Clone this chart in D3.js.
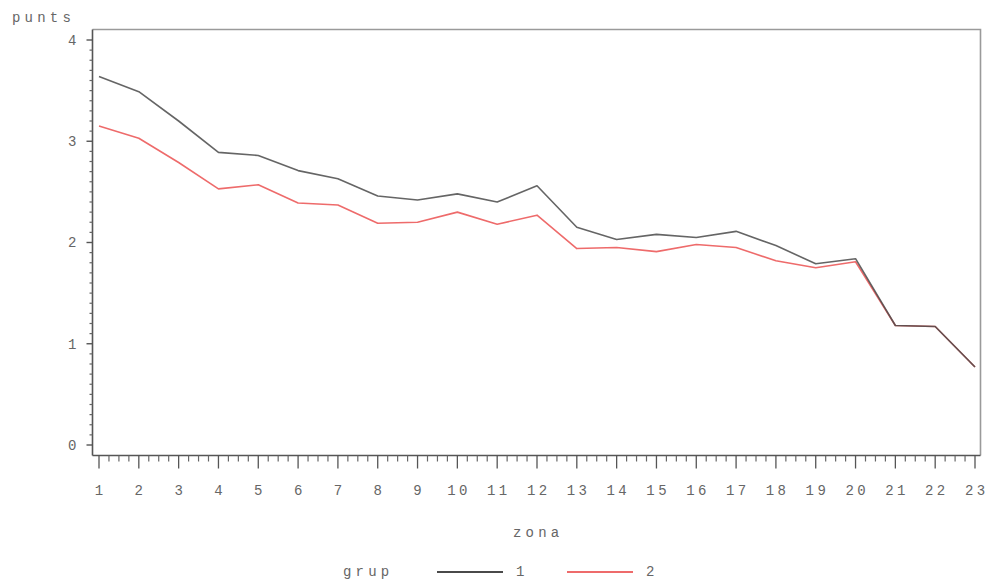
<!DOCTYPE html>
<html>
<head>
<meta charset="utf-8">
<script src="https://cdn.jsdelivr.net/npm/d3@7"></script>
<style>
  html, body { margin: 0; padding: 0; background: #fff; }
  svg text { font-family: "Liberation Mono", "DejaVu Sans Mono", monospace; fill: #666; }
</style>
</head>
<body>
<svg id="chart" width="989" height="582"></svg>
<script>
// Zones along the x axis
const zones = [1,2,3,4,5,6,7,8,9,10,11,12,13,14,15,16,17,18,19,20,21,22,23];
// Mean points per zone, group 1 and group 2
const grup1 = [3.64,3.49,3.20,2.89,2.86,2.71,2.63,2.46,2.42,2.48,2.40,2.56,2.15,2.03,2.08,2.05,2.11,1.97,1.79,1.84,1.18,1.17,0.77];
const grup2 = [3.15,3.03,2.79,2.53,2.57,2.39,2.37,2.19,2.20,2.30,2.18,2.27,1.94,1.95,1.91,1.98,1.95,1.82,1.75,1.81,1.18,1.17,0.77];
const yTicks = [0,1,2,3,4];
const groups = ["1","2"];
const colors = ["#4a4a4a","#ee6b6b"];

const svg = d3.select("#chart");
const frame = {left: 92.5, right: 980.5, top: 29.5, bottom: 455.5};
const fs = 14, ls = 3.4;

const x = d3.scaleLinear().domain([1, 23]).range([99, 975]);
const y = d3.scaleLinear().domain([0, 4]).range([445, 40]);

// plot frame (top and right sides lighter)
svg.append("path")
  .attr("d", `M${frame.left},${frame.top}H${frame.right}V${frame.bottom}`)
  .attr("fill", "none").attr("stroke", "#9a9a9a").attr("stroke-width", 1.6);

// y axis: majors every 1, minors every 0.1
const yAxis = svg.append("g").attr("transform", `translate(${frame.left},0)`);
yAxis.append("line").attr("x1", 0).attr("x2", 0).attr("y1", frame.top).attr("y2", frame.bottom)
  .attr("stroke", "#555").attr("stroke-width", 1.6);
const yMinor = d3.range(0, 40.5, 1).map(d => d / 10).filter(d => !yTicks.includes(d));
yAxis.selectAll("line.minor").data(yMinor).join("line").attr("class", "minor")
  .attr("x1", -3).attr("x2", 0).attr("y1", d => y(d)).attr("y2", d => y(d))
  .attr("stroke", "#666").attr("stroke-width", 1.2);
yAxis.selectAll("line.major").data(yTicks).join("line").attr("class", "major")
  .attr("x1", -6).attr("x2", 0).attr("y1", d => y(d)).attr("y2", d => y(d))
  .attr("stroke", "#555").attr("stroke-width", 1.4);
yAxis.selectAll("text").data(yTicks).join("text")
  .attr("x", -16).attr("y", d => y(d)).attr("dy", "0.35em")
  .attr("text-anchor", "end").attr("font-size", fs).text(d => d);

// x axis: majors every zone, minors every quarter
const xAxis = svg.append("g").attr("transform", `translate(0,${frame.bottom})`);
xAxis.append("line").attr("x1", frame.left).attr("x2", frame.right).attr("y1", 0).attr("y2", 0)
  .attr("stroke", "#555").attr("stroke-width", 1.6);
const xMinor = d3.range(4, 92, 1).map(d => d / 4).filter(d => d % 1 !== 0);
xAxis.selectAll("line.minor").data(xMinor).join("line").attr("class", "minor")
  .attr("x1", d => x(d)).attr("x2", d => x(d)).attr("y1", 0).attr("y2", 6)
  .attr("stroke", "#666").attr("stroke-width", 1.2);
xAxis.selectAll("line.major").data(zones).join("line").attr("class", "major")
  .attr("x1", d => x(d)).attr("x2", d => x(d)).attr("y1", 0).attr("y2", 13)
  .attr("stroke", "#555").attr("stroke-width", 1.3);
xAxis.selectAll("text").data(zones).join("text")
  .attr("x", d => x(d)).attr("y", 35).attr("dy", "0.35em")
  .attr("text-anchor", "middle").attr("font-size", fs)
  .attr("letter-spacing", ls).attr("dx", ls / 2)
  .text(d => d);

// axis titles
svg.append("text").attr("x", 12).attr("y", 22).attr("font-size", fs)
  .attr("letter-spacing", 4.2).text("punts");
svg.append("text").attr("x", 513).attr("y", 537).attr("font-size", fs)
  .attr("letter-spacing", 4.2).text("zona");

// series lines
const line = d3.line().x((d, i) => x(zones[i])).y(d => y(d));
[grup2, grup1].forEach((s, k) => {
  svg.append("path").datum(s)
    .attr("d", line).attr("fill", "none")
    .attr("stroke", colors[1 - k]).attr("stroke-width", 1.6)
    .attr("stroke-opacity", k === 1 ? 0.85 : 1)
    .attr("stroke-linejoin", "round");
});

// legend
const leg = svg.append("g");
leg.append("text").attr("x", 343).attr("y", 576).attr("font-size", fs)
  .attr("letter-spacing", 4.2).text("grup");
const legX = [437, 567];
groups.forEach((g, i) => {
  leg.append("line").attr("x1", legX[i]).attr("x2", legX[i] + 66)
    .attr("y1", 572).attr("y2", 572)
    .attr("stroke", colors[i]).attr("stroke-width", 2);
  leg.append("text").attr("x", legX[i] + 79).attr("y", 576).attr("font-size", fs).text(g);
});
</script>
</body>
</html>
